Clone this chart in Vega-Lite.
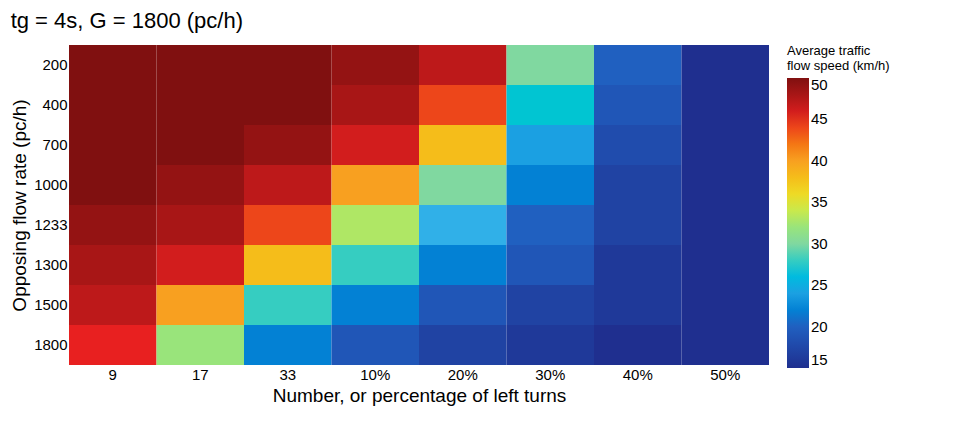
{
  "$schema": "https://vega.github.io/schema/vega-lite/v5.json",
  "width": 700,
  "height": 320,
  "padding": {"left": 10, "top": 10, "right": 10, "bottom": 10},
  "config": {"font": "Liberation Sans", "view": {"stroke": null}},
  "title": {"text": "tg = 4s, G = 1800 (pc/h)", "anchor": "start", "fontSize": 22, "fontWeight": "normal", "offset": 12},
  "data": {"values": [
    {"flow": "200", "lt": "9", "v": 50}, {"flow": "200", "lt": "17", "v": 50}, {"flow": "200", "lt": "33", "v": 50}, {"flow": "200", "lt": "10%", "v": 49}, {"flow": "200", "lt": "20%", "v": 47}, {"flow": "200", "lt": "30%", "v": 30}, {"flow": "200", "lt": "40%", "v": 20}, {"flow": "200", "lt": "50%", "v": 15},
    {"flow": "400", "lt": "9", "v": 50}, {"flow": "400", "lt": "17", "v": 50}, {"flow": "400", "lt": "33", "v": 50}, {"flow": "400", "lt": "10%", "v": 48}, {"flow": "400", "lt": "20%", "v": 44}, {"flow": "400", "lt": "30%", "v": 27}, {"flow": "400", "lt": "40%", "v": 19}, {"flow": "400", "lt": "50%", "v": 15},
    {"flow": "700", "lt": "9", "v": 50}, {"flow": "700", "lt": "17", "v": 50}, {"flow": "700", "lt": "33", "v": 49}, {"flow": "700", "lt": "10%", "v": 46}, {"flow": "700", "lt": "20%", "v": 38}, {"flow": "700", "lt": "30%", "v": 24}, {"flow": "700", "lt": "40%", "v": 18}, {"flow": "700", "lt": "50%", "v": 15},
    {"flow": "1000", "lt": "9", "v": 50}, {"flow": "1000", "lt": "17", "v": 49}, {"flow": "1000", "lt": "33", "v": 47}, {"flow": "1000", "lt": "10%", "v": 40}, {"flow": "1000", "lt": "20%", "v": 30}, {"flow": "1000", "lt": "30%", "v": 22}, {"flow": "1000", "lt": "40%", "v": 17}, {"flow": "1000", "lt": "50%", "v": 15},
    {"flow": "1233", "lt": "9", "v": 49}, {"flow": "1233", "lt": "17", "v": 48}, {"flow": "1233", "lt": "33", "v": 44}, {"flow": "1233", "lt": "10%", "v": 33}, {"flow": "1233", "lt": "20%", "v": 25}, {"flow": "1233", "lt": "30%", "v": 20}, {"flow": "1233", "lt": "40%", "v": 17}, {"flow": "1233", "lt": "50%", "v": 15},
    {"flow": "1300", "lt": "9", "v": 48}, {"flow": "1300", "lt": "17", "v": 46}, {"flow": "1300", "lt": "33", "v": 38}, {"flow": "1300", "lt": "10%", "v": 28}, {"flow": "1300", "lt": "20%", "v": 22}, {"flow": "1300", "lt": "30%", "v": 19}, {"flow": "1300", "lt": "40%", "v": 16}, {"flow": "1300", "lt": "50%", "v": 15},
    {"flow": "1500", "lt": "9", "v": 47}, {"flow": "1500", "lt": "17", "v": 40}, {"flow": "1500", "lt": "33", "v": 28}, {"flow": "1500", "lt": "10%", "v": 22}, {"flow": "1500", "lt": "20%", "v": 19}, {"flow": "1500", "lt": "30%", "v": 17}, {"flow": "1500", "lt": "40%", "v": 16}, {"flow": "1500", "lt": "50%", "v": 15},
    {"flow": "1800", "lt": "9", "v": 45}, {"flow": "1800", "lt": "17", "v": 32}, {"flow": "1800", "lt": "33", "v": 22}, {"flow": "1800", "lt": "10%", "v": 19}, {"flow": "1800", "lt": "20%", "v": 17}, {"flow": "1800", "lt": "30%", "v": 16}, {"flow": "1800", "lt": "40%", "v": 15}, {"flow": "1800", "lt": "50%", "v": 15}
  ]},
  "mark": {"type": "rect", "tooltip": true},
  "encoding": {
    "x": {"field": "lt", "type": "ordinal", "sort": ["9", "17", "33", "10%", "20%", "30%", "40%", "50%"],
      "title": "Number, or percentage of left turns",
      "axis": {"labelAngle": 0, "labelFontSize": 15, "titleFontSize": 19, "titleFontWeight": "normal", "domain": false, "ticks": false}},
    "y": {"field": "flow", "type": "ordinal", "sort": ["200", "400", "700", "1000", "1233", "1300", "1500", "1800"],
      "title": "Opposing flow rate (pc/h)",
      "axis": {"labelFontSize": 15, "titleFontSize": 19, "titleFontWeight": "normal", "domain": false, "ticks": false}},
    "color": {"field": "v", "type": "quantitative", "title": ["Average traffic", "flow speed (km/h)"],
      "scale": {"domain": [15, 50], "range": ["#1f2f8f", "#2060c0", "#30b0e8", "#80d8a0", "#e8e830", "#f8a020", "#e82020", "#801010"]},
      "legend": {"orient": "right", "gradientLength": 290, "gradientThickness": 22, "labelFontSize": 15, "titleFontSize": 13, "titleFontWeight": "normal", "values": [15, 20, 25, 30, 35, 40, 45, 50]}}
  }
}
